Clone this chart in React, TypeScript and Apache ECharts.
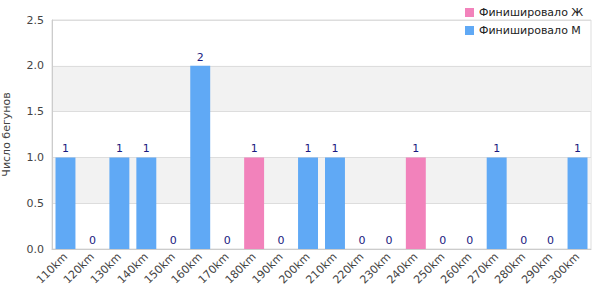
import React, { useEffect, useRef } from "react";
import * as echarts from "echarts";

const categories = ["110km","120km","130km","140km","150km","160km","170km","180km","190km","200km","210km","220km","230km","240km","250km","260km","270km","280km","290km","300km"];
const femaleValues = [0,0,0,0,0,0,0,1,0,0,0,0,0,1,0,0,0,0,0,0];
const maleValues = [1,0,1,1,0,2,0,0,0,1,1,0,0,0,0,0,1,0,0,1];
const seriesNames = ["Финишировало Ж", "Финишировало М"];
const yAxisTitle = "Число бегунов";

export default function App() {
  const ref = useRef<HTMLDivElement>(null);
  useEffect(() => {
    if (!ref.current) return;
    document.body.style.margin = "0";
    const chart = echarts.init(ref.current, null, { renderer: "svg" });
    const totals = categories.map((_, i) => femaleValues[i] + maleValues[i]);
    const font = "DejaVu Sans";
    chart.setOption({
      animation: false,
      textStyle: { fontFamily: font },
      legend: {
        orient: "vertical",
        left: 460,
        top: 2,
        itemWidth: 9,
        itemHeight: 9,
        itemGap: 7,
        icon: "rect",
        textStyle: { fontSize: 11, color: "#222", fontFamily: font },
        data: seriesNames,
      },
      grid: { left: 52, right: 9, top: 20, bottom: 51, outerBoundsMode: "none", containLabel: false, show: true, borderColor: "#ddd", borderWidth: 1, backgroundColor: "transparent" },
      xAxis: {
        type: "category",
        data: categories,
        axisLine: { lineStyle: { color: "#ccc" } },
        axisTick: { show: false },
        axisLabel: { rotate: 45, fontSize: 11, color: "#444", interval: 0, margin: 6, fontFamily: font },
      },
      yAxis: {
        type: "value",
        min: 0,
        max: 2.5,
        interval: 0.5,
        name: yAxisTitle,
        nameLocation: "middle",
        nameGap: 40,
        nameTextStyle: { fontSize: 11, color: "#444", fontFamily: font },
        axisLine: { show: true, lineStyle: { color: "#ccc" } },
        axisLabel: { fontSize: 11, color: "#444", formatter: (v: number) => v.toFixed(1), fontFamily: font },
        splitLine: { lineStyle: { color: "#ddd" } },
        splitArea: { show: true, areaStyle: { color: ["rgba(255,255,255,0)", "#f2f2f2"] } },
      },
      series: [
        {
          name: seriesNames[0],
          type: "bar",
          stack: "total",
          data: femaleValues,
          barCategoryGap: "26%",
          itemStyle: { color: "#f282bb" },
        },
        {
          name: seriesNames[1],
          type: "bar",
          stack: "total",
          data: maleValues,
          barCategoryGap: "26%",
          itemStyle: { color: "#60a9f5" },
          label: {
            show: true,
            position: "top",
            distance: 3,
            fontSize: 11,
            color: "#1a1a80",
            fontFamily: font,
            formatter: (p: any) => String(totals[p.dataIndex]),
          },
        },
      ],
    });
    return () => chart.dispose();
  }, []);
  return <div ref={ref} style={{ width: 600, height: 300 }} />;
}
